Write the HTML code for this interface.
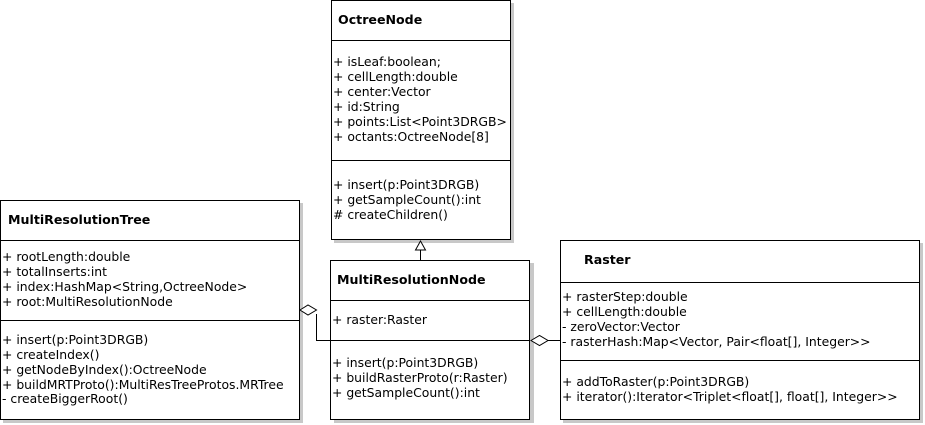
<!DOCTYPE html>
<html><head><meta charset="utf-8"><style>
html,body{margin:0;padding:0;background:#fff;width:925px;height:425px;overflow:hidden}
text{font-family:"DejaVu Sans","Liberation Sans",sans-serif;font-size:12.4px;fill:#000}
.b{font-weight:bold;font-size:12.6px}
</style></head><body>
<svg width="925" height="425" xmlns="http://www.w3.org/2000/svg">
<g fill="#c8c8c8">
<rect x="334" y="3" width="180" height="240"/>
<rect x="3" y="203" width="300" height="220"/>
<rect x="334" y="263" width="200" height="160"/>
<rect x="563" y="243" width="360" height="180"/>
</g>
<g fill="#fff" stroke="#000" stroke-width="1">
<rect x="331.5" y="0.5" width="179" height="239"/>
<rect x="0.5" y="200.5" width="299" height="219"/>
<rect x="330.5" y="260.5" width="199" height="159"/>
<rect x="560.5" y="240.5" width="359" height="179"/>
</g>
<g stroke="#000" fill="none">
<line x1="331" y1="40.5" x2="511" y2="40.5"/>
<line x1="331" y1="160.5" x2="511" y2="160.5"/>
<line x1="0" y1="240.5" x2="300" y2="240.5"/>
<line x1="0" y1="320.5" x2="300" y2="320.5"/>
<line x1="330" y1="300.5" x2="530" y2="300.5"/>
<line x1="330" y1="340.5" x2="530" y2="340.5"/>
<line x1="560" y1="282.5" x2="920" y2="282.5"/>
<line x1="560" y1="360.5" x2="920" y2="360.5"/>
<line x1="420.5" y1="250" x2="420.5" y2="260"/>
<polygon points="420.5,241 415.5,250 425.5,250" fill="#fff"/>
<polyline points="316.5,314 316.5,340.5 530,340.5"/>
<polygon points="300,310 308,305 316.5,310 308,315" fill="#fff"/>
<line x1="548" y1="340.5" x2="560" y2="340.5"/>
<polygon points="531,340.5 539.5,335.5 548,340.5 539.5,345.5" fill="#fff"/>
</g>
<text class="b" x="338" y="24">OctreeNode</text>
<text x="333" y="66">+  isLeaf:boolean;</text>
<text x="333" y="81">+  cellLength:double</text>
<text x="333" y="96">+  center:Vector</text>
<text x="333" y="111">+  id:String</text>
<text x="333" y="126">+  points:List&lt;Point3DRGB&gt;</text>
<text x="333" y="141">+ octants:OctreeNode[8]</text>
<text x="333" y="189">+ insert(p:Point3DRGB)</text>
<text x="333" y="204">+ getSampleCount():int</text>
<text x="333" y="219"># createChildren()</text>
<text class="b" x="8" y="224">MultiResolutionTree</text>
<text x="2" y="261">+ rootLength:double</text>
<text x="2" y="276">+ totalInserts:int</text>
<text x="2" y="291">+ index:HashMap&lt;String,OctreeNode&gt;</text>
<text x="2" y="306">+ root:MultiResolutionNode</text>
<text x="2" y="344">+ insert(p:Point3DRGB)</text>
<text x="2" y="359">+ createIndex()</text>
<text x="2" y="374">+ getNodeByIndex():OctreeNode</text>
<text x="2" y="389">+ buildMRTProto():MultiResTreeProtos.MRTree</text>
<text x="2" y="403">- createBiggerRoot()</text>
<text class="b" x="337" y="284">MultiResolutionNode</text>
<text x="332" y="324">+ raster:Raster</text>
<text x="332" y="367">+ insert(p:Point3DRGB)</text>
<text x="332" y="382">+ buildRasterProto(r:Raster)</text>
<text x="332" y="397">+ getSampleCount():int</text>
<text class="b" x="584" y="264">Raster</text>
<text x="562" y="301">+ rasterStep:double</text>
<text x="562" y="316">+ cellLength:double</text>
<text x="562" y="331">- zeroVector:Vector</text>
<text x="562" y="346">- rasterHash:Map&lt;Vector, Pair&lt;float[], Integer&gt;&gt;</text>
<text x="562" y="386">+ addToRaster(p:Point3DRGB)</text>
<text x="562" y="401">+ iterator():Iterator&lt;Triplet&lt;float[], float[], Integer&gt;&gt;</text>
</svg>
</body></html>
